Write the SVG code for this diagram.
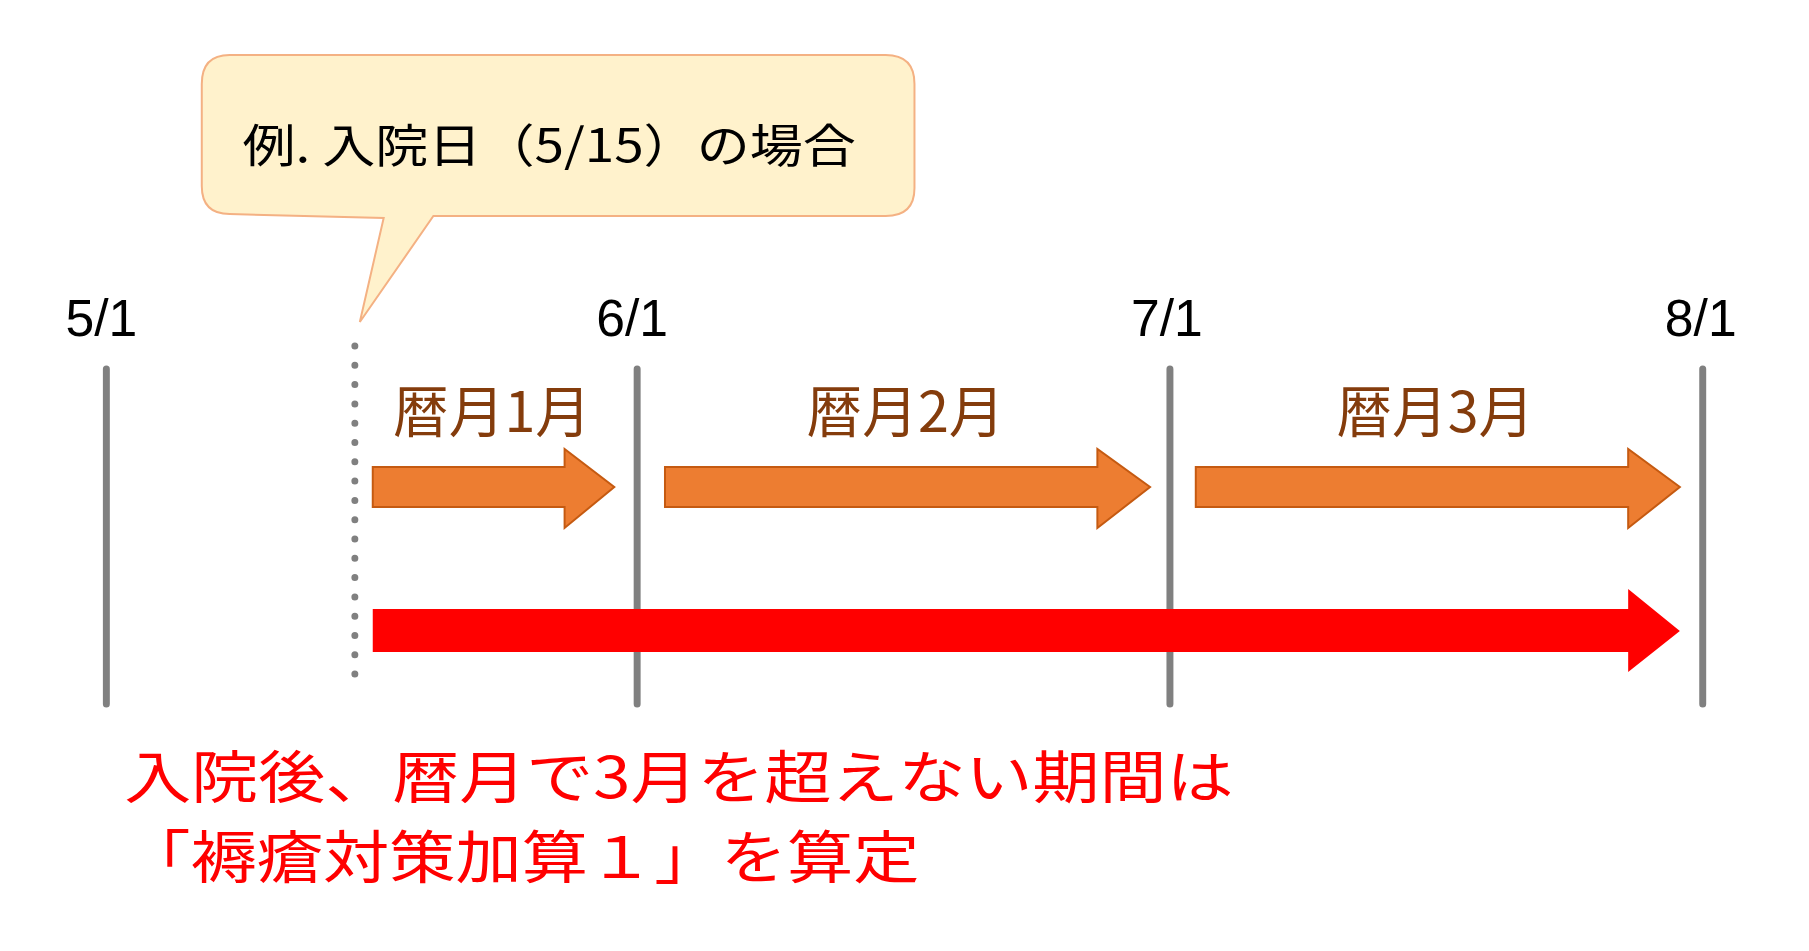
<svg xmlns="http://www.w3.org/2000/svg" width="1809" height="951" viewBox="0 0 1809 951">
<style>
text{font-family:"Noto Sans CJK JP","Noto Sans",sans-serif;}
.date{font-size:52px;fill:#000;text-anchor:middle;font-family:"Liberation Sans","Noto Sans CJK JP",sans-serif;}
.mon{font-size:56px;fill:#843C0C;text-anchor:middle;}
.vline{stroke:#808080;stroke-width:7;stroke-linecap:round;}
.oa{fill:#ED7D31;stroke:#C55A11;stroke-width:2;}
.red{font-size:57px;fill:#FF0000;}
</style>
<rect width="1809" height="951" fill="#fff"/>
<g transform="matrix(0.994 0 0 1 0 0)">
<g id="callout">
<path d="M231,55 H891 Q920,55 920,84 V188 Q920,216 891,216 H436 L362,322 L386,218 L231,214 Q203,214 203,186 V84 Q203,55 231,55 Z" fill="#FFF2CC" stroke="#F4B183" stroke-width="2"/>
<text x="244" y="162" font-size="46" fill="#000" textLength="617" lengthAdjust="spacingAndGlyphs">例. 入院日（5/15）の場合</text>
</g>
<g id="dates">
<text class="date" x="102" y="336">5/1</text>
<text class="date" x="636" y="336">6/1</text>
<text class="date" x="1174" y="336">7/1</text>
<text class="date" x="1711" y="336">8/1</text>
</g>
<g id="timeline">
<line class="vline" x1="107" y1="369" x2="107" y2="704"/>
<line class="vline" x1="641" y1="369" x2="641" y2="704"/>
<line class="vline" x1="1177" y1="369" x2="1177" y2="704"/>
<line class="vline" x1="1713" y1="369" x2="1713" y2="704"/>
<line x1="357" y1="346" x2="357" y2="693" stroke="#808080" stroke-width="7" stroke-linecap="round" stroke-dasharray="0 19.3"/>
</g>
<g id="month1"><text class="mon" x="495" y="432">暦月1月</text>
<path class="oa" d="M375,467 H568 V449 L618,487 L568,528 V507 H375 Z"/></g>
<g id="month2"><text class="mon" x="911" y="432">暦月2月</text>
<path class="oa" d="M669,467 H1104 V449 L1157,487 L1104,528 V507 H669 Z"/></g>
<g id="month3"><text class="mon" x="1444" y="432">暦月3月</text>
<path class="oa" d="M1203,467 H1638 V449 L1690,487 L1638,528 V507 H1203 Z"/></g>
<g id="connectors">
<path d="M375,609 H1638 V589 L1690,631 L1638,672 V652 H375 Z" fill="#FF0000"/>
</g>
<g id="note">
<text class="red" x="125" y="798" textLength="1116" lengthAdjust="spacingAndGlyphs">入院後、暦月で3月を超えない期間は</text>
<text class="red" x="125" y="878" textLength="800" lengthAdjust="spacingAndGlyphs">「褥瘡対策加算１」を算定</text>
</g>
</g>
</svg>
